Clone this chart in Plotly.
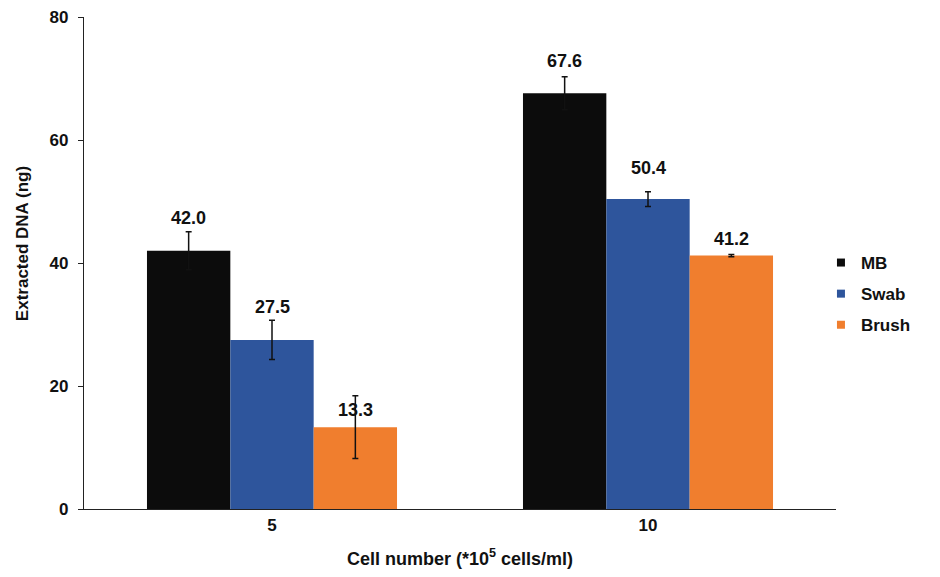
import plotly.graph_objects as go

categories = ["5", "10"]
series_names = ["MB", "Swab", "Brush"]
mb_values = [42.0, 67.6]
swab_values = [27.5, 50.4]
brush_values = [13.3, 41.2]
mb_errors = [3.1, 2.7]
swab_errors = [3.2, 1.2]
brush_errors = [5.1, 0.2]
y_ticks = [0, 20, 40, 60, 80]

colors = ["#0c0c0c", "#2e559c", "#f07e2e"]
values = [mb_values, swab_values, brush_values]
errors = [mb_errors, swab_errors, brush_errors]
label_shifts = [[33, 32], [33, 31], [17, 17]]

FONT = "Liberation Sans, Arial, sans-serif"


def bold(size):
    return dict(family=FONT, size=size, color="#111111", weight="bold")


fig = go.Figure()
for i, name in enumerate(series_names):
    fig.add_trace(go.Bar(
        name=name, x=categories, y=values[i],
        marker=dict(color=colors[i], line=dict(width=0)),
        error_y=dict(type="data", array=errors[i], visible=True,
                     color="#111111", thickness=1.5, width=3),
        showlegend=False,
    ))
# legend entries with small square swatches
for i, name in enumerate(series_names):
    fig.add_trace(go.Scatter(
        name=name, x=[None], y=[None], mode="markers",
        marker=dict(symbol="square", size=8, color=colors[i]),
        legendgroup=name, showlegend=True,
    ))

n = len(series_names)
for i, name in enumerate(series_names):
    for j, cat in enumerate(categories):
        fig.add_annotation(
            x=j, y=values[i][j], xref="x", yref="y",
            text="%.1f" % values[i][j], showarrow=False,
            xanchor="center", yanchor="middle",
            xshift=(i - (n - 1) / 2) * 83.5, yshift=label_shifts[i][j],
            font=bold(18),
        )

fig.add_annotation(
    x=-0.082, y=0.539, xref="paper", yref="paper",
    xanchor="center", yanchor="middle",
    text="Extracted DNA (ng)", textangle=-90, showarrow=False,
    font=bold(17),
)
fig.add_annotation(
    x=0.5, y=-0.098, xref="paper", yref="paper",
    xanchor="center", yanchor="middle",
    text="Cell number (*10<sup>5</sup> cells/ml)", showarrow=False,
    font=bold(18),
)

fig.update_layout(
    width=940, height=577,
    margin=dict(l=76, r=112, t=9, b=76),
    paper_bgcolor="white", plot_bgcolor="white",
    barmode="group", bargap=0.335, bargroupgap=0,
    font=dict(family=FONT, size=17, color="#111111"),
    showlegend=True,
    legend=dict(x=0.98, y=0.437, xanchor="left", yanchor="middle",
                font=bold(17), tracegroupgap=6, itemwidth=30,
                bgcolor="rgba(0,0,0,0)"),
    xaxis=dict(type="category", range=[-0.5, 1.5], showline=True,
               linecolor="#222222", linewidth=1.2, ticks="",
               showgrid=False, tickfont=bold(17), automargin=False),
    yaxis=dict(range=[0, 80], tickvals=y_ticks, showline=True,
               linecolor="#222222", linewidth=1.2, ticks="outside",
               ticklen=5, tickcolor="#222222", showgrid=False, zeroline=False,
               tickfont=bold(17), ticklabelstandoff=6, automargin=False,
               ticklabeloverflow="allow"),
)

fig.write_html("out.html")
